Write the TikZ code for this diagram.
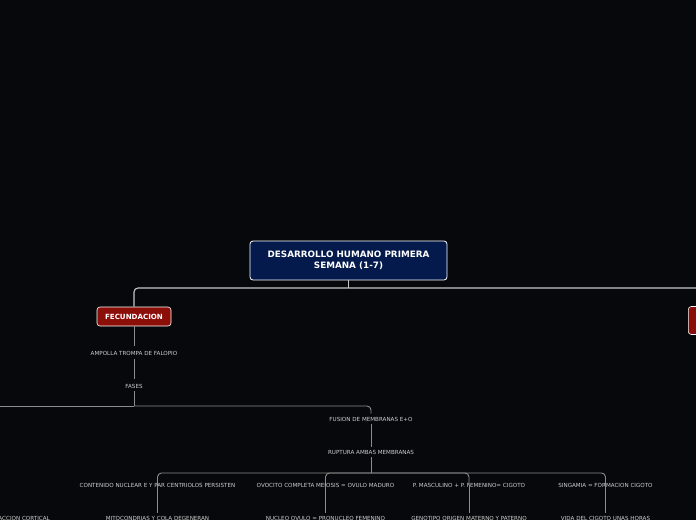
\documentclass[tikz,border=0pt]{standalone}
\usepackage{fontspec}
\setmainfont{DejaVu Sans}
\definecolor{bg}{RGB}{7,8,11}
\definecolor{navy}{RGB}{4,26,76}
\definecolor{darkred}{RGB}{140,14,9}
\definecolor{txtgray}{RGB}{205,205,205}
\definecolor{lightline}{RGB}{200,200,200}
\definecolor{linegray}{RGB}{140,140,140}
\begin{document}
\begin{tikzpicture}[x=1pt,y=-1pt,
  small/.style={font=\fontsize{5.6}{6.5}\selectfont, text=txtgray, inner sep=1pt},
  conn/.style={draw=linegray, line width=0.9pt},
  rootconn/.style={draw=lightline, line width=1.1pt},
  rootbox/.style={draw=white, fill=navy, rounded corners=3pt, line width=0.8pt, minimum width=197pt, minimum height=39pt, align=center, text=white, font=\bfseries\fontsize{8.8}{11.5}\selectfont},
  redbox/.style={draw=white, fill=darkred, rounded corners=3pt, line width=0.6pt, minimum width=74pt, minimum height=19pt, text=white, font=\bfseries\fontsize{7.1}{8}\selectfont}]
\fill[bg] (0,0) rectangle (696,520);
\clip (0,0) rectangle (696,520);
% nodes
\node[rootbox] (root) at (348.5,260.5) {DESARROLLO HUMANO PRIMERA\\SEMANA (1-7)};
\node[redbox] (fec) at (134,316.5) {FECUNDACION};
\node[redbox, anchor=west, minimum height=28pt] (right) at (688,320.5) {};
\node[small] (amp) at (134,353) {AMPOLLA TROMPA DE FALOPIO};
\node[small] (fases) at (134,386) {FASES};
\node[small] (fusion) at (371,419) {FUSION DE MEMBRANAS E+O};
\node[small] (rup) at (371,452) {RUPTURA AMBAS MEMBRANAS};
\coordinate (leftend) at (-10,406);
% connectors
\draw[rootconn] (root.south) -- (root.south |- 0,288);
\draw[rootconn, rounded corners=4pt] (348.5,288) -| (fec.north);
\draw[rootconn, rounded corners=4pt] (348.5,288) -| (right.north);
\draw[conn, shorten >=4pt] (fec.south) -- (amp.north);
\draw[conn, shorten <=3pt, shorten >=4pt] (amp.south) -- (fases.north);
\draw[conn, shorten <=2pt] (fases.south) -- (fases.south |- 0,406);
\draw[conn] (134,406) -- (leftend);
\draw[conn, rounded corners=4pt] (134,406) -| ([yshift=2pt]fusion.north);
\draw[conn, shorten <=2pt, shorten >=2pt] (fusion.south) -- (rup.north);
\draw[conn, shorten <=2pt] (rup.south) -- (371,473);
\coordinate (c1) at (157.5,485);
\coordinate (c2) at (325.5,485);
\coordinate (c3) at (469,485);
\coordinate (c4) at (605.5,485);
\draw[conn, rounded corners=4pt] (371,473) -| (c1);
\draw[conn, rounded corners=4pt] (371,473) -| (c2);
\draw[conn, rounded corners=4pt] (371,473) -| (c3);
\draw[conn, rounded corners=4pt] (371,473) -| (c4);
\node[small] (m1) at (c1) {CONTENIDO NUCLEAR E Y PAR CENTRIOLOS PERSISTEN};
\node[small] (m2) at (c2) {OVOCITO COMPLETA MEIOSIS = OVULO MADURO};
\node[small] (m3) at (c3) {P. MASCULINO + P. FEMENINO= CIGOTO};
\node[small] (m4) at (c4) {SINGAMIA = FORMACION CIGOTO};
\node[small] (d1) at (157.5,518) {MITOCONDRIAS Y COLA DEGENERAN};
\node[small] (d2) at (325.5,518) {NUCLEO OVULO = PRONUCLEO FEMENINO};
\node[small] (d3) at (469,518) {GENOTIPO ORIGEN MATERNO Y PATERNO};
\node[small] (d4) at (605.5,518) {VIDA DEL CIGOTO UNAS HORAS};
\node[small, anchor=east] (reac) at (51,518) {REACCION CORTICAL};
\draw[conn, shorten >=2pt] (m1.center) -- (d1.north);
\draw[conn, shorten >=2pt] (m2.center) -- (d2.north);
\draw[conn, shorten >=2pt] (m3.center) -- (d3.north);
\draw[conn, shorten >=2pt] (m4.center) -- (d4.north);
\end{tikzpicture}
\end{document}
